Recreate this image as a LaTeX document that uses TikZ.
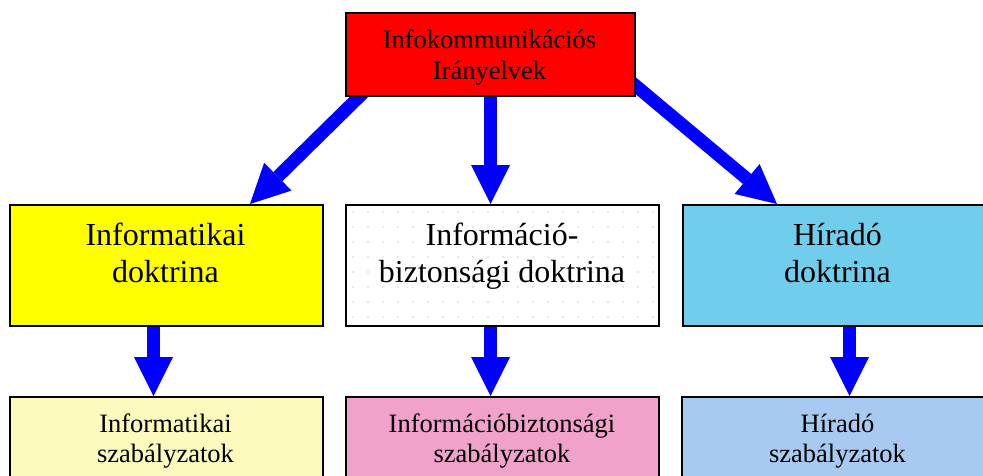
\documentclass[tikz,border=0pt]{standalone}
\usepackage{fontspec}
\setmainfont{Liberation Serif}
\usetikzlibrary{arrows.meta,calc}
\pgfdeclarelayer{background}
\pgfsetlayers{background,main}
\definecolor{arrowblue}{RGB}{0,0,255}
\definecolor{topred}{RGB}{255,0,0}
\definecolor{docyellow}{RGB}{255,255,0}
\definecolor{doccyan}{RGB}{112,206,236}
\definecolor{regyellow}{RGB}{252,250,188}
\definecolor{regpink}{RGB}{240,162,202}
\definecolor{regblue}{RGB}{168,202,240}
\definecolor{dotpink}{RGB}{240,110,230}
\begin{document}
\begin{tikzpicture}[x=1pt,y=-1pt,
  box/.style={draw=black, line width=2pt, rectangle, inner sep=0pt, anchor=north west},
  bigarrow/.style={draw=arrowblue, line width=13pt, -{Triangle[width=39pt,length=39pt,line width=0pt]}},
  fsmall/.style={font=\fontsize{26.5}{31}\selectfont, anchor=base, inner sep=0pt},
  fbig/.style={font=\fontsize{32}{37}\selectfont, anchor=base, inner sep=0pt}]
\clip (0,0) rectangle (983,475);
% boxes
\node[box, fill=topred, minimum width=289pt, minimum height=83pt] (top) at (345,12) {};
\node[box, fill=docyellow, minimum width=313pt, minimum height=121pt] (m1) at (9,204) {};
\node[box, fill=white, minimum width=313pt, minimum height=121pt] (m2) at (345,204) {};
\node[box, fill=doccyan, minimum width=310pt, minimum height=121pt] (m3) at (682,204) {};
\node[box, fill=regyellow, minimum width=313pt, minimum height=100pt] (b1) at (9,396) {};
\node[box, fill=regpink, minimum width=313pt, minimum height=100pt] (b2) at (345,396) {};
\node[box, fill=regblue, minimum width=314pt, minimum height=100pt] (b3) at (681,396) {};
% faint dots in the white box
\foreach \dx in {8,23,...,308} {
  \foreach \dy in {8,23,...,113} {
    \fill[dotpink] ($(m2.north west)+(\dx,\dy)$) circle (0.7pt);
  }
}
% texts
\node[fsmall] (t0a) at (489.5,48) {Infokommunikációs};
\node[fsmall] (t0b) at (489.5,79) {Irányelvek};
\node[fbig] (t1a) at (165.5,245) {Informatikai};
\node[fbig] (t1b) at (165.5,282) {doktrina};
\node[fbig] (t2a) at (502,245) {Információ-};
\node[fbig] (t2b) at (502,282) {biztonsági doktrina};
\node[fbig] (t3a) at (837.5,245) {Híradó};
\node[fbig] (t3b) at (837.5,282) {doktrina};
\node[fsmall] (t4a) at (165.5,432) {Informatikai};
\node[fsmall] (t4b) at (165.5,462) {szabályzatok};
\node[fsmall] (t5a) at (502,432) {Információbiztonsági};
\node[fsmall] (t5b) at (502,462) {szabályzatok};
\node[fsmall] (t6a) at (837.5,432) {Híradó};
\node[fsmall] (t6b) at (837.5,462) {szabályzatok};
% arrows
\coordinate (s1) at ($(top.south west)+(23,-9)$);
\coordinate (e1) at ($(m1.north west)+(241,0)$);
\coordinate (s3) at ($(top.south east)+(-6,-16)$);
\coordinate (e3) at ($(m3.north west)+(95,0)$);
\coordinate (c1) at ($(m1.south west)+(144.5,0)$);
\coordinate (c3) at ($(m3.south west)+(167.5,0)$);
\begin{pgfonlayer}{background}
\draw[bigarrow] (s1) -- (e1);
\draw[bigarrow] (top.south) -- (top.south |- m2.north);
\draw[bigarrow] (s3) -- (e3);
\draw[bigarrow] (c1) -- (c1 |- b1.north);
\draw[bigarrow] (m2.south -| top.south) -- (b2.north -| top.south);
\draw[bigarrow] (c3) -- (c3 |- b3.north);
\end{pgfonlayer}
\end{tikzpicture}
\end{document}
